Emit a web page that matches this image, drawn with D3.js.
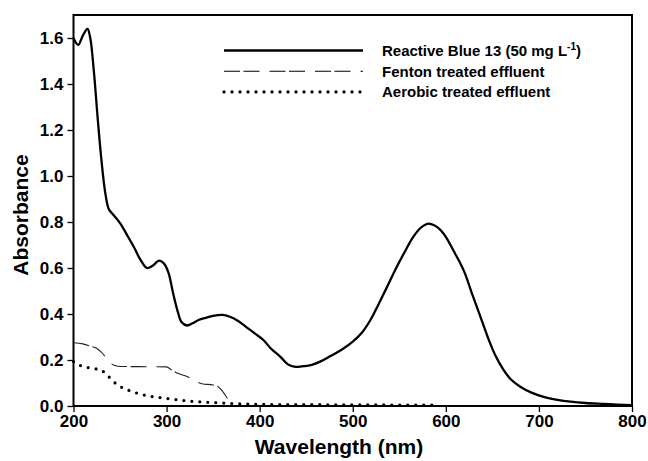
<!DOCTYPE html>
<html>
<head>
<meta charset="utf-8">
<title>Absorbance spectra</title>
<script src="https://d3js.org/d3.v7.min.js"></script>
<style>
  body { margin: 0; background: #fff; overflow: hidden; }
  text { font-family: Arial, "Liberation Sans", Helvetica, sans-serif; font-weight: bold; fill: #000; }
  .tick text { font-size: 17px; }
  .domain { display: none; }
  .tick line { stroke: #000; stroke-width: 1.3px; }
</style>
</head>
<body>
<svg width="648" height="461"></svg>
<script>
// wavelength (nm) / absorbance
var dyeWave = [200, 205, 210, 215, 218, 222, 226, 230, 234, 238, 242, 250, 258, 265, 272, 279, 285, 292, 297, 302, 307, 312, 316, 322, 328, 335, 342, 350, 360, 368, 376, 385, 395, 404, 412, 422, 430, 437, 445, 455, 465, 476, 490, 500, 510, 519, 528, 537, 546, 555, 565, 573, 580, 585, 590, 595, 600, 605, 610, 615, 620, 628, 637, 645, 653, 662, 670, 680, 692, 705, 720, 734, 750, 770, 785, 800];
var dyeAbs  = [1.60, 1.57, 1.61, 1.64, 1.60, 1.45, 1.25, 1.07, 0.93, 0.855, 0.835, 0.795, 0.74, 0.69, 0.635, 0.60, 0.61, 0.632, 0.62, 0.58, 0.49, 0.41, 0.365, 0.35, 0.36, 0.375, 0.383, 0.392, 0.396, 0.388, 0.372, 0.345, 0.315, 0.287, 0.25, 0.215, 0.182, 0.171, 0.172, 0.178, 0.193, 0.217, 0.25, 0.28, 0.32, 0.374, 0.445, 0.519, 0.595, 0.664, 0.735, 0.775, 0.792, 0.79, 0.78, 0.762, 0.735, 0.70, 0.662, 0.625, 0.582, 0.49, 0.39, 0.30, 0.222, 0.157, 0.115, 0.084, 0.058, 0.040, 0.027, 0.019, 0.013, 0.009, 0.006, 0.004];

var fentonWave = [200, 210, 218, 226, 232, 238, 243, 250, 270, 300, 305, 312, 322, 330, 338, 350, 355, 360, 365, 370];
var fentonAbs  = [0.275, 0.27, 0.26, 0.248, 0.225, 0.195, 0.178, 0.172, 0.171, 0.170, 0.158, 0.142, 0.128, 0.11, 0.097, 0.091, 0.085, 0.065, 0.035, 0.005];

var aerobicWave = [200, 205, 212, 222, 230, 236, 243, 250, 258, 265, 279, 290, 300, 320, 340, 360, 380, 400, 450, 500, 590];
var aerobicAbs  = [0.193, 0.18, 0.17, 0.163, 0.155, 0.135, 0.106, 0.085, 0.07, 0.06, 0.045, 0.038, 0.033, 0.023, 0.017, 0.013, 0.009, 0.007, 0.006, 0.005, 0.004];

var xTicks = [200, 300, 400, 500, 600, 700, 800];
var yTicks = [0.0, 0.2, 0.4, 0.6, 0.8, 1.0, 1.2, 1.4, 1.6];

var legendLabels = ["Reactive Blue 13 (50 mg L", "Fenton treated effluent", "Aerobic treated effluent"];

var plotLeft = 73.5, plotRight = 632, plotTop = 15, plotBottom = 406;

var svg = d3.select("svg");

var x = d3.scaleLinear().domain([200, 800]).range([plotLeft, plotRight]);
var y = d3.scaleLinear().domain([0, 1.7]).range([plotBottom, plotTop]);

function pairs(xs, ys) {
  return xs.map(function(v, i) { return [v, ys[i]]; });
}

// axes
svg.append("g")
  .attr("transform", "translate(0," + plotBottom + ")")
  .call(d3.axisBottom(x).tickValues(xTicks).tickSize(6).tickPadding(3).tickFormat(d3.format("d")));

svg.append("g")
  .attr("transform", "translate(" + plotLeft + ",0)")
  .call(d3.axisLeft(y).tickValues(yTicks).tickSize(6).tickPadding(4).tickFormat(d3.format(".1f")));

// frame
svg.append("rect")
  .attr("x", plotLeft).attr("y", plotTop)
  .attr("width", plotRight - plotLeft).attr("height", plotBottom - plotTop)
  .attr("fill", "none").attr("stroke", "#000").attr("stroke-width", 2);

var line = d3.line()
  .x(function(d) { return x(d[0]); })
  .y(function(d) { return y(d[1]); });

svg.append("path")
  .datum(pairs(dyeWave, dyeAbs))
  .attr("fill", "none").attr("stroke", "#000").attr("stroke-width", 2.3)
  .attr("d", line.curve(d3.curveCatmullRom.alpha(0.5)));

svg.append("path")
  .datum(pairs(fentonWave, fentonAbs))
  .attr("fill", "none").attr("stroke", "#222").attr("stroke-width", 1.1)
  .attr("stroke-dasharray", "16,3.5,16,10")
  .attr("d", line.curve(d3.curveMonotoneX));

svg.append("path")
  .datum(pairs(aerobicWave, aerobicAbs))
  .attr("fill", "none").attr("stroke", "#000").attr("stroke-width", 3.2)
  .attr("stroke-linecap", "round")
  .attr("stroke-dasharray", "0,8")
  .attr("d", line.curve(d3.curveMonotoneX));

// axis titles
svg.append("text")
  .attr("x", 339).attr("y", 453.5)
  .attr("text-anchor", "middle")
  .style("font-size", "21px")
  .text("Wavelength (nm)");

svg.append("text")
  .attr("transform", "translate(28,215) rotate(-90)")
  .attr("text-anchor", "middle")
  .style("font-size", "21px")
  .text("Absorbance");

// legend
var legendStyles = [
  { w: 2.3, dash: null, cap: "butt" },
  { w: 1.1, dash: "16,3.5,16,10", cap: "butt" },
  { w: 3.2, dash: "0,8", cap: "round" }
];
var legend = svg.append("g");
legendLabels.forEach(function(lbl, i) {
  var ly = 50.5 + i * 20.7;
  var s = legendStyles[i];
  legend.append("line")
    .attr("x1", 224).attr("x2", 363)
    .attr("y1", ly).attr("y2", ly)
    .attr("stroke", "#000")
    .attr("stroke-width", s.w)
    .attr("stroke-linecap", s.cap)
    .attr("stroke-dasharray", s.dash);
  var t = legend.append("text")
    .attr("x", 382).attr("y", ly + 5.5)
    .style("font-size", "15px")
    .text(lbl);
  if (i === 0) {
    t.append("tspan").attr("dy", -6).style("font-size", "10px").text("-1");
    t.append("tspan").attr("dy", 6).text(")");
  }
});
</script>
</body>
</html>
